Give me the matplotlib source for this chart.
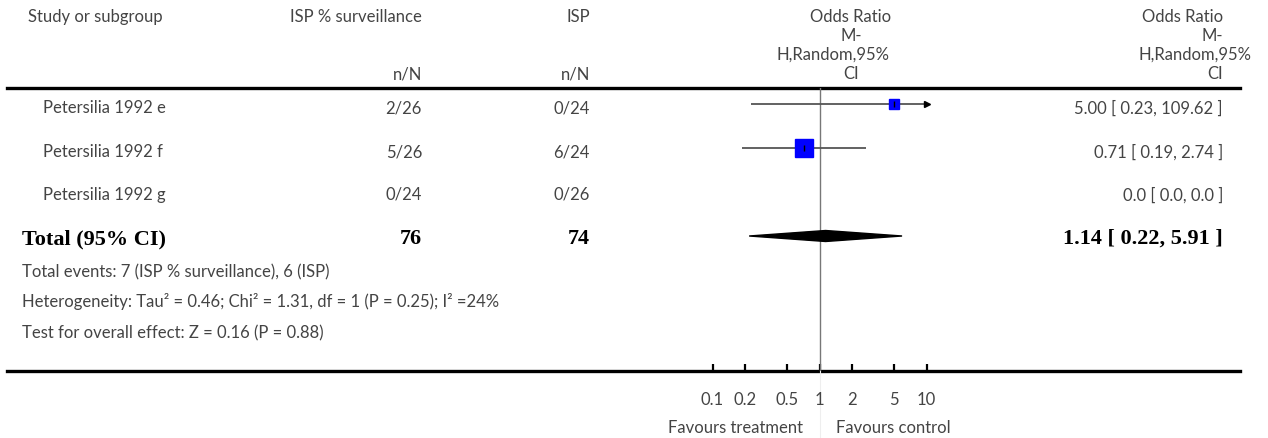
import numpy as np
import matplotlib
matplotlib.use("Agg")
import matplotlib.pyplot as plt
from matplotlib.patches import Polygon
from matplotlib.lines import Line2D

# Study rows
studies = ["Petersilia 1992 e", "Petersilia 1992 f", "Petersilia 1992 g"]
surv_events = [2, 5, 0]
surv_total = [26, 26, 24]
isp_events = [0, 6, 0]
isp_total = [24, 24, 26]
odds_ratio = [5.00, 0.71, 0.0]
ci_low = [0.23, 0.19, 0.0]
ci_high = [109.62, 2.74, 0.0]
weight = [18.6, 81.4, 0.0]

# Pooled estimate
total_surv = 76
total_isp = 74
pooled_or = 1.14
pooled_low = 0.22
pooled_high = 5.91

axis_ticks = [0.1, 0.2, 0.5, 1, 2, 5, 10]
axis_labels = ["0.1", "0.2", "0.5", "1", "2", "5", "10"]

footnotes = [
    "Total events: 7 (ISP % surveillance), 6 (ISP)",
    "Heterogeneity: Tau\u00b2 = 0.46; Chi\u00b2 = 1.31, df = 1 (P = 0.25); I\u00b2 =24%",
    "Test for overall effect: Z = 0.16 (P = 0.88)",
]

W, H = 1268, 438
BODY = "Lato"
SERIF = "Liberation Serif"
GREY = "#444444"
FS = 12

fig = plt.figure(figsize=(W / 100, H / 100), dpi=100)

# full-figure axes in pixel units for the table text and rules
tax = fig.add_axes([0, 0, 1, 1])
tax.set_xlim(0, W)
tax.set_ylim(H, 0)
tax.axis("off")

top_rule, bottom_rule = 88, 371
x_left, x_right = 712.5, 926.5

# forest panel on a log odds-ratio scale
fax = fig.add_axes([x_left / W, 1 - bottom_rule / H,
                    (x_right - x_left) / W, (bottom_rule - top_rule) / H])
fax.set_xscale("log")
fax.set_xlim(0.1, 10)
fax.set_ylim(bottom_rule, top_rule)
fax.patch.set_visible(False)
for s in fax.spines.values():
    s.set_visible(False)
fax.set_yticks([])
fax.set_xticks(axis_ticks)
fax.set_xticklabels(axis_labels, fontfamily=BODY, fontsize=FS, color=GREY)
fax.minorticks_off()
fax.tick_params(axis="x", direction="in", length=5, width=1.6, color="black", pad=15)

def txt(x, y, s, ha="left", **kw):
    kw.setdefault("fontfamily", BODY)
    kw.setdefault("fontsize", FS)
    kw.setdefault("color", GREY)
    tax.text(x, y, s, ha=ha, va="center", **kw)

# header
txt(28, 17, "Study or subgroup")
txt(422, 17, "ISP % surveillance", ha="right")
txt(590, 17, "ISP", ha="right")
txt(422, 74, "n/N", ha="right")
txt(590, 74, "n/N", ha="right")
for y, s in [(17, "Odds Ratio"), (36, "M-"), (74, "CI")]:
    txt(851, y, s, ha="center")
txt(889, 55, "H,Random,95%", ha="right")
for y, s in [(17, "Odds Ratio"), (36, "M-"), (74, "CI")]:
    txt(1223, y, s, ha="right")
txt(1252, 55, "H,Random,95%", ha="right")

# rules
tax.add_line(Line2D([7, 1240], [top_rule, top_rule], color="black", lw=2.4))
tax.add_line(Line2D([7, 1240], [bottom_rule, bottom_rule], color="black", lw=2.4))
tax.add_line(Line2D([819.5, 819.5], [bottom_rule, H], color="#eeeeee", lw=0.8))
fax.axvline(1, color="#777777", lw=1.0)

row_y = [104, 148, 191]
for i, name in enumerate(studies):
    ty = row_y[i] + 4
    txt(43, ty, name)
    txt(422, ty, f"{surv_events[i]}/{surv_total[i]}", ha="right")
    txt(590, ty, f"{isp_events[i]}/{isp_total[i]}", ha="right")
    if odds_ratio[i] > 0:
        txt(1223, ty, f"{odds_ratio[i]:.2f} [ {ci_low[i]:.2f}, {ci_high[i]:.2f} ]", ha="right")
        hi = min(ci_high[i], 10)
        fax.plot([max(ci_low[i], 0.1), hi], [row_y[i]] * 2, color="#555555", lw=1.3,
                 solid_capstyle="butt", zorder=2)
        if ci_high[i] > 10:
            fax.plot([10], [row_y[i]], marker=">", ms=4, color="black", clip_on=False, zorder=3)
        side = 21 * np.sqrt(weight[i] / 100) * 0.72
        fax.plot([odds_ratio[i]], [row_y[i]], marker="s", ms=side, color="#0000ff",
                 mec="#0000ff", zorder=4)
        fax.plot([odds_ratio[i]], [row_y[i]], marker="|", ms=4, mew=1, color="black", zorder=5)
    else:
        txt(1223, ty, "0.0 [ 0.0, 0.0 ]", ha="right")

# pooled row
total_y = 236
bold = dict(fontfamily=SERIF, fontsize=16, fontweight="bold", color="black")
txt(22, total_y + 3, "Total (95% CI)", **bold)
txt(422, total_y + 3, str(total_surv), ha="right", **bold)
txt(590, total_y + 3, str(total_isp), ha="right", **bold)
txt(1223, total_y + 3, f"{pooled_or:.2f} [ {pooled_low:.2f}, {pooled_high:.2f} ]", ha="right", **bold)
fax.add_patch(Polygon([(pooled_low, total_y), (pooled_or, total_y - 5.5),
                       (pooled_high, total_y), (pooled_or, total_y + 5.5)],
                      closed=True, color="black", zorder=4))

for y, s in zip([272, 302, 333], footnotes):
    txt(22, y, s)

txt(803, 428, "Favours treatment", ha="right")
txt(836, 428, "Favours control")

fig.savefig("out.png", dpi=100)
